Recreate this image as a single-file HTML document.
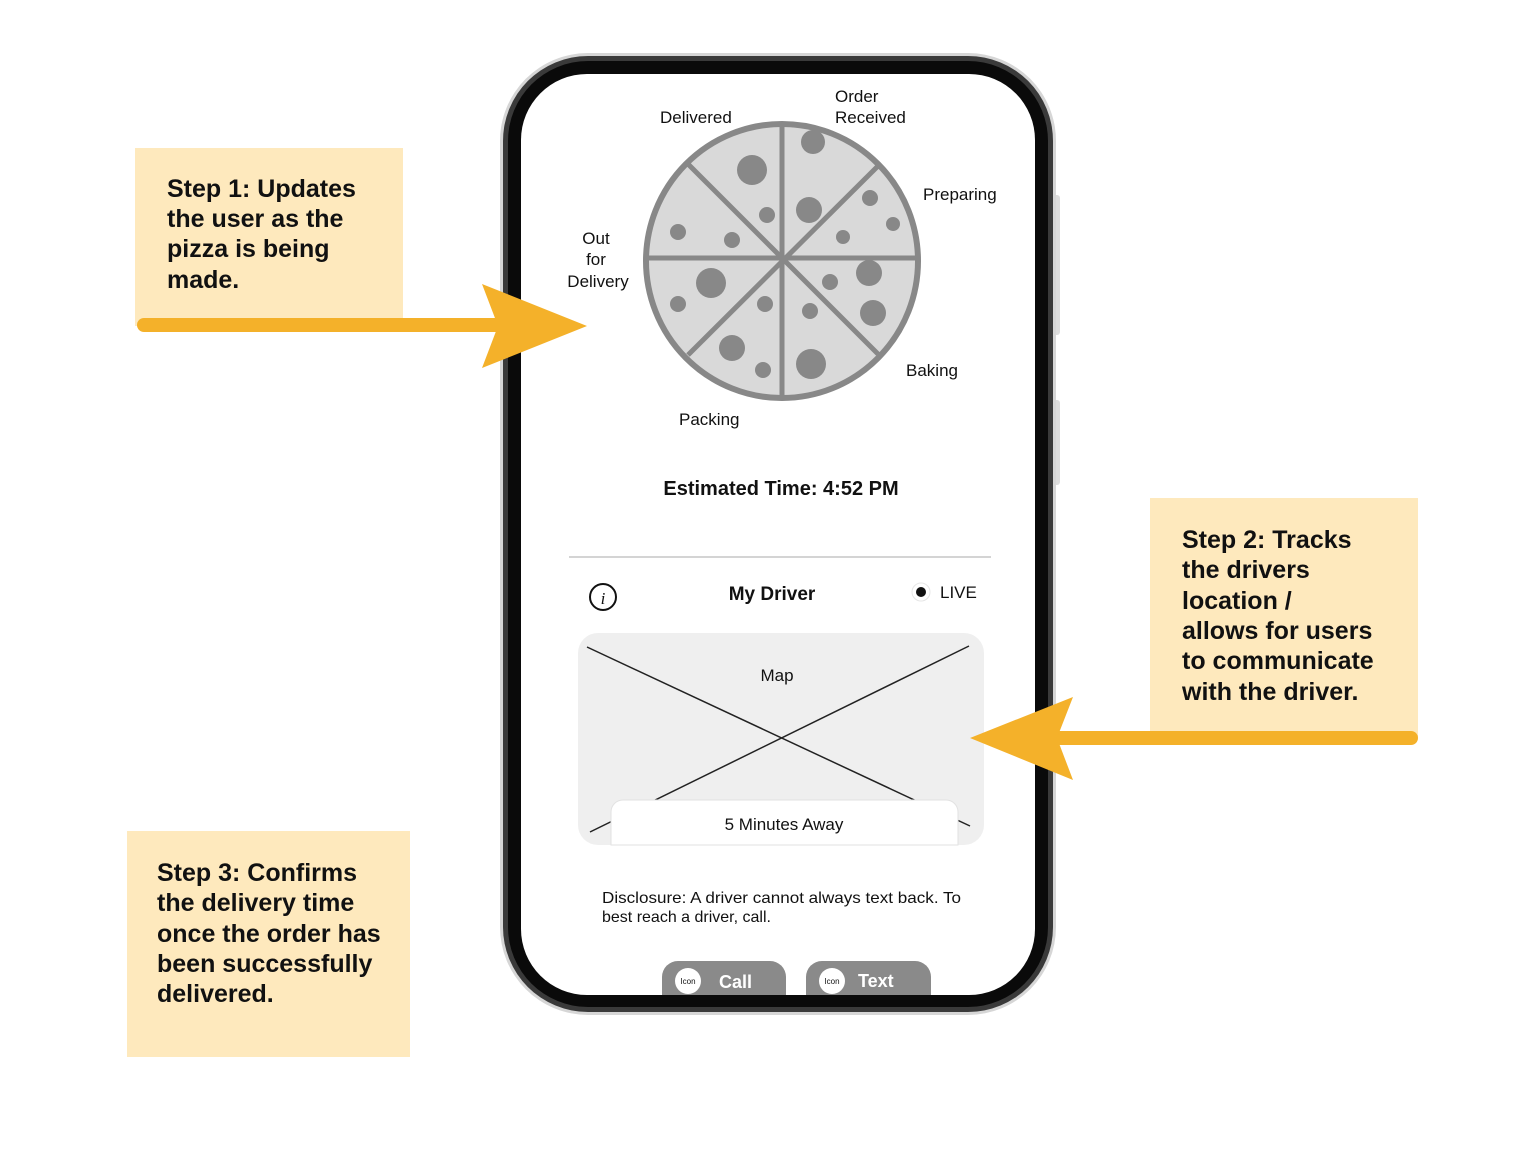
<!DOCTYPE html>
<html><head><meta charset="utf-8"><style>
html,body{margin:0;padding:0;background:#fff;width:1536px;height:1152px;overflow:hidden}
svg{display:block}
.s{font-family:"Liberation Sans",sans-serif}
</style></head><body>
<svg width="1536" height="1152" viewBox="0 0 1536 1152" xmlns="http://www.w3.org/2000/svg" class="s">
<rect x="135" y="148" width="268" height="178" fill="#fee9bd"/>
<rect x="1150" y="498" width="268" height="240" fill="#fee9bd"/>
<rect x="127" y="831" width="283" height="226" fill="#fee9bd"/>
<g font-weight="bold" font-size="25" fill="#111">
<text x="167" y="197">Step 1: Updates</text>
<text x="167" y="227">the user as the</text>
<text x="167" y="257">pizza is being</text>
<text x="167" y="288">made.</text>
<text x="1182" y="548">Step 2: Tracks</text>
<text x="1182" y="578">the drivers</text>
<text x="1182" y="609">location /</text>
<text x="1182" y="639">allows for users</text>
<text x="1182" y="669">to communicate</text>
<text x="1182" y="700">with the driver.</text>
<text x="157" y="881">Step 3: Confirms</text>
<text x="157" y="911">the delivery time</text>
<text x="157" y="942">once the order has</text>
<text x="157" y="972">been successfully</text>
<text x="157" y="1002">delivered.</text>
</g>
<rect x="1052" y="195" width="8" height="140" rx="3" fill="#ddd"/>
<rect x="1052" y="400" width="8" height="85" rx="3" fill="#ddd"/>
<rect x="500" y="53" width="556" height="962" rx="88" fill="#d6d6d6"/>
<rect x="503" y="56" width="550" height="956" rx="85" fill="#3a3a3a"/>
<rect x="508" y="61" width="540" height="946" rx="80" fill="#0a0a0a"/>
<rect x="521" y="74" width="514" height="921" rx="66" fill="#fff"/>
<g>
<ellipse cx="782" cy="261" rx="136" ry="137" fill="#d9d9d9" stroke="#888" stroke-width="6"/>
<g stroke="#888" stroke-width="5">
<line x1="782" y1="126" x2="782" y2="396"/>
<line x1="648" y1="258" x2="916" y2="258"/>
<line x1="688" y1="164" x2="878" y2="354"/>
<line x1="688" y1="355" x2="878" y2="166"/>
</g>
<g fill="#888">
<circle cx="813" cy="142" r="12"/>
<circle cx="752" cy="170" r="15"/>
<circle cx="767" cy="215" r="8"/>
<circle cx="809" cy="210" r="13"/>
<circle cx="870" cy="198" r="8"/>
<circle cx="893" cy="224" r="7"/>
<circle cx="843" cy="237" r="7"/>
<circle cx="678" cy="232" r="8"/>
<circle cx="732" cy="240" r="8"/>
<circle cx="869" cy="273" r="13"/>
<circle cx="830" cy="282" r="8"/>
<circle cx="711" cy="283" r="15"/>
<circle cx="678" cy="304" r="8"/>
<circle cx="765" cy="304" r="8"/>
<circle cx="810" cy="311" r="8"/>
<circle cx="873" cy="313" r="13"/>
<circle cx="732" cy="348" r="13"/>
<circle cx="763" cy="370" r="8"/>
<circle cx="811" cy="364" r="15"/>
</g>
</g>
<g font-size="17" fill="#111">
<text x="660" y="123">Delivered</text>
<text x="835" y="102">Order</text>
<text x="835" y="123">Received</text>
<text x="923" y="200">Preparing</text>
<text x="596" y="244" text-anchor="middle">Out</text>
<text x="596" y="265" text-anchor="middle">for</text>
<text x="598" y="287" text-anchor="middle">Delivery</text>
<text x="906" y="376">Baking</text>
<text x="679" y="425">Packing</text>
</g>
<text x="781" y="495" font-size="20" font-weight="bold" text-anchor="middle" fill="#111">Estimated Time: 4:52 PM</text>
<line x1="569" y1="557" x2="991" y2="557" stroke="#d4d4d4" stroke-width="2"/>
<circle cx="603" cy="597" r="13" fill="none" stroke="#111" stroke-width="2"/>
<text x="603" y="604" font-size="17" font-style="italic" text-anchor="middle" fill="#111" font-family="Liberation Serif,serif">i</text>
<text x="772" y="600" font-size="19" font-weight="bold" text-anchor="middle" fill="#111">My Driver</text>
<circle cx="921" cy="592" r="9" fill="#fff" stroke="#e6e6e6" stroke-width="1"/>
<circle cx="921" cy="592" r="5" fill="#111"/>
<text x="940" y="598" font-size="17" fill="#111">LIVE</text>
<rect x="578" y="633" width="406" height="212" rx="20" fill="#efefef"/>
<line x1="587" y1="647" x2="970" y2="826" stroke="#222" stroke-width="1.5"/>
<line x1="590" y1="832" x2="969" y2="646" stroke="#222" stroke-width="1.5"/>
<text x="777" y="681" font-size="17" text-anchor="middle" fill="#111">Map</text>
<path d="M611 845 V812 a12 12 0 0 1 12 -12 H946 a12 12 0 0 1 12 12 V845 Z" fill="#fff" stroke="#e2e2e2" stroke-width="1"/>
<text x="784" y="830" font-size="17" text-anchor="middle" fill="#111">5 Minutes Away</text>
<text x="602" y="903" font-size="16" fill="#111" textLength="359" lengthAdjust="spacingAndGlyphs">Disclosure: A driver cannot always text back. To</text>
<text x="602" y="922" font-size="16" fill="#111">best reach a driver, call.</text>
<clipPath id="sc"><rect x="521" y="74" width="514" height="921" rx="66"/></clipPath>
<g clip-path="url(#sc)">
<rect x="662" y="961" width="124" height="50" rx="16" fill="#8a8a8a"/>
<rect x="806" y="961" width="125" height="50" rx="16" fill="#8a8a8a"/>
<circle cx="688" cy="981" r="13" fill="#fff"/>
<circle cx="832" cy="981" r="13" fill="#fff"/>
<text x="688" y="984" font-size="8" text-anchor="middle" fill="#111">Icon</text>
<text x="832" y="984" font-size="8" text-anchor="middle" fill="#111">Icon</text>
<text x="719" y="988" font-size="18" font-weight="bold" fill="#fff">Call</text>
<text x="858" y="987" font-size="18" font-weight="bold" fill="#fff">Text</text>
</g>
<line x1="144" y1="325" x2="500" y2="325" stroke="#f4b12a" stroke-width="14" stroke-linecap="round"/>
<path d="M482 284 L587 326 L482 368 L498 326 Z" fill="#f4b12a"/>
<line x1="1060" y1="738" x2="1411" y2="738" stroke="#f4b12a" stroke-width="14" stroke-linecap="round"/>
<path d="M1073 697 L970 738 L1073 780 L1057 738 Z" fill="#f4b12a"/>
</svg>
</body></html>
